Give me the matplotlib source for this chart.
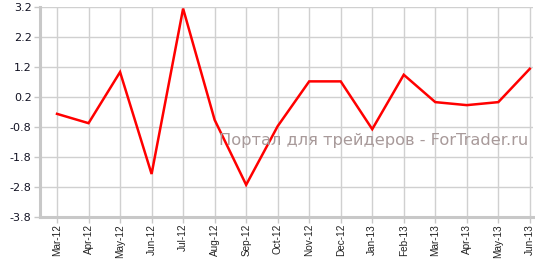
import matplotlib
matplotlib.use("Agg")
import matplotlib.pyplot as plt

months = ["Mar-12", "Apr-12", "May-12", "Jun-12", "Jul-12", "Aug-12", "Sep-12", "Oct-12",
          "Nov-12", "Dec-12", "Jan-13", "Feb-13", "Mar-13", "Apr-13", "May-13", "Jun-13"]
values = [-0.37, -0.68, 1.02, -2.37, 3.13, -0.57, -2.73, -0.78,
          0.71, 0.71, -0.88, 0.93, 0.02, -0.08, 0.02, 1.13]
yticks = [-3.8, -2.8, -1.8, -0.8, 0.2, 1.2, 2.2, 3.2]
watermark = "Портал для трейдеров - ForTrader.ru"

W, H = 535, 259
fig = plt.figure(figsize=(W / 100, H / 100), dpi=100)
left, right, top, bottom = 40, 533, 6.5, 217
ax = fig.add_axes([left / W, (H - bottom) / H, (right - left) / W, (bottom - top) / H])

x = list(range(len(months)))
ax.plot(x, values, color="#ff0000", lw=1.8, zorder=3, solid_joinstyle="miter")

ax.set_xlim(-0.54, 15.1)
ax.set_ylim(-3.8, 3.2)
ax.set_yticks(yticks)
ax.set_yticklabels([f"{v:.1f}" for v in yticks], fontsize=8, color="#111122")
ax.set_xticks(x)
ax.set_xticklabels(months, rotation=90, fontsize=7.2, color="#222222",
                   family="Liberation Sans")

ax.grid(True, color="#d0d0d0", lw=1.0, zorder=0)
for s in ["top", "right"]:
    ax.spines[s].set_visible(False)
for s in ["left", "bottom"]:
    ax.spines[s].set_color("#c8c8c8")
    ax.spines[s].set_linewidth(2.2)
ax.tick_params(axis="y", length=4, width=1, color="#c8c8c8", pad=2)
ax.tick_params(axis="x", length=4, width=1, color="#c8c8c8", pad=1)

ax.text(0.99, 0.365, watermark, transform=ax.transAxes, ha="right", va="center",
        fontsize=11.7, color="#a89a9a", zorder=4)

fig.savefig("out.png", dpi=100)
